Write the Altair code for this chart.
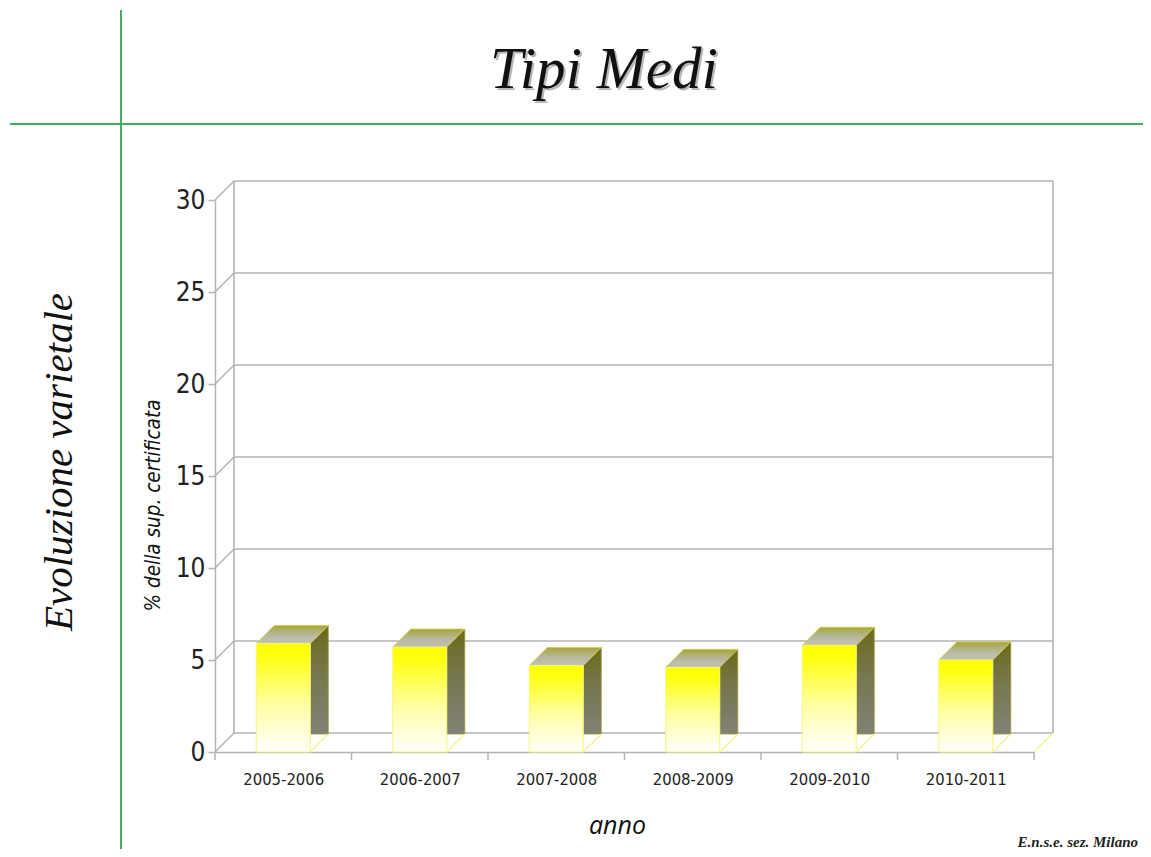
import altair as alt
import pandas as pd

# ---------------- data ----------------
years = ["2005-2006", "2006-2007", "2007-2008", "2008-2009", "2009-2010", "2010-2011"]
values = [5.9, 5.7, 4.7, 4.6, 5.8, 5.0]
y_ticks = [0, 5, 10, 15, 20, 25, 30]

# ---------------- geometry / style constants ----------------
W, H = 819, 552
YMAX = 30
N = len(years)
PX_X = W / N
PX_Y = H / YMAX
WALL = 19        # px depth of the 3D box
BAR_D = 18       # px depth of a bar
BAR_HALF = 27    # px half-width of a bar front

wdx, wdy = WALL / PX_X, WALL / PX_Y
bdx, bdy = BAR_D / PX_X, BAR_D / PX_Y
hw = BAR_HALF / PX_X

GRID = "#b4b4b4"
PALE = "#f4f48a"
NARROW = "DejaVu Sans Condensed, DejaVu Sans, sans-serif"
SERIF = "Liberation Serif, DejaVu Serif, serif"

X_SC = alt.Scale(domain=[0, N], nice=False, zero=False)
Y_SC = alt.Scale(domain=[0, YMAX], nice=False, zero=False)

label_expr = "[" + ",".join("'%s'" % y for y in years) + "][floor(datum.value)]"

X_AX = alt.Axis(values=[i + 0.5 for i in range(N)], labelExpr=label_expr, ticks=False, tickSize=0,
                grid=False, domainColor=GRID, domainWidth=1.5, labelFont=NARROW, labelFontSize=16.5,
                labelColor="#222222", labelPadding=19, labelFlush=False, labelOverlap=False,
                title="anno", titleFont="Open Sans", titleFontStyle="italic", titleFontWeight="normal",
                titleFontSize=25, titleColor="#111111", titleX=402, titleY=73,
                titleAlign="center", titleBaseline="middle")
Y_AX = alt.Axis(values=y_ticks, grid=False, tickSize=7, tickColor=GRID, tickWidth=1.5,
                domainColor=GRID, domainWidth=1.5, labelFont=NARROW, labelFontSize=26,
                labelColor="#222222", labelPadding=3, labelFlush=False, labelOverlap=False,
                title="% della sup. certificata", titleFont="DejaVu Sans Condensed, DejaVu Sans, sans-serif",
                titleFontStyle="italic", titleFontWeight="normal", titleFontSize=20.5,
                titleColor="#111111", titleX=-62, titleY=305, titleAngle=270,
                titleAlign="center", titleBaseline="middle")


def X(f):
    return alt.X(f + ":Q", scale=X_SC, axis=X_AX)


def Y(f):
    return alt.Y(f + ":Q", scale=Y_SC, axis=Y_AX, stack=None)


# ---------------- walls ----------------
wall_rows = []
for t in y_ticks:
    wall_rows.append(dict(x=wdx, x2=N + wdx, y=t + wdy, y2=t + wdy))   # back wall grid line
    wall_rows.append(dict(x=0, x2=wdx, y=t, y2=t + wdy))              # side wall diagonal
wall_rows.append(dict(x=wdx, x2=wdx, y=wdy, y2=YMAX + wdy))
wall_rows.append(dict(x=N + wdx, x2=N + wdx, y=wdy, y2=YMAX + wdy))
walls = pd.DataFrame(wall_rows)

wall_layer = alt.Chart(walls).mark_rule(color=GRID, strokeWidth=1.6).encode(
    x=X("x"), x2=alt.X2("x2"), y=Y("y"), y2=alt.Y2("y2"))

floor_edge = alt.Chart(pd.DataFrame([dict(x=N, x2=N + wdx, y=0, y2=wdy)])).mark_rule(
    color=PALE, strokeWidth=1.2).encode(x=X("x"), x2=alt.X2("x2"), y=Y("y"), y2=alt.Y2("y2"))

xticks = pd.DataFrame({"k": list(range(N + 1))})
xtick_layer = alt.Chart(xticks).mark_rule(color=GRID, strokeWidth=1.5).encode(
    x=X("k"), y=alt.value(H), y2=alt.value(H + 8))

# ---------------- bars ----------------
front_rows, side_rows, top_rows, diag_rows = [], [], [], []
for i, (yr, v) in enumerate(zip(years, values)):
    c = i + 0.5
    x0, x1 = c - hw, c + hw
    front_rows.append(dict(bar=yr, x0=x0, x1=x1, v=v))
    side_rows += [dict(bar=yr, x=x1, y=bdy, y2=v),
                  dict(bar=yr, x=x1 + bdx, y=bdy, y2=v + bdy)]
    top_rows += [dict(bar=yr, x=x0, y=v, y2=v),
                 dict(bar=yr, x=x0 + bdx, y=v, y2=v + bdy),
                 dict(bar=yr, x=x1, y=v, y2=v + bdy),
                 dict(bar=yr, x=x1 + bdx, y=v + bdy, y2=v + bdy)]
    diag_rows.append(dict(bar=yr, x=x1, x2=x1 + bdx, y=0, y2=bdy))

front = pd.DataFrame(front_rows)
side = pd.DataFrame(side_rows)
top = pd.DataFrame(top_rows)
diag = pd.DataFrame(diag_rows)

front_grad = alt.LinearGradient(gradient="linear", x1=0, y1=0, x2=0, y2=1, stops=[
    alt.GradientStop(color="#ffff00", offset=0),
    alt.GradientStop(color="#ffff10", offset=0.12),
    alt.GradientStop(color="#ffffa0", offset=0.55),
    alt.GradientStop(color="#ffffff", offset=1)])
side_grad = alt.LinearGradient(gradient="linear", x1=0, y1=0, x2=0, y2=1, stops=[
    alt.GradientStop(color="#6a6a1c", offset=0),
    alt.GradientStop(color="#77774e", offset=0.45),
    alt.GradientStop(color="#818177", offset=1)])
top_grad = alt.LinearGradient(gradient="linear", x1=0, y1=0, x2=0, y2=1, stops=[
    alt.GradientStop(color="#a6a63a", offset=0),
    alt.GradientStop(color="#b8b8a0", offset=0.55),
    alt.GradientStop(color="#c2c2b6", offset=1)])

side_layer = alt.Chart(side).mark_area(fill=side_grad, stroke="#9a9a30", strokeWidth=0.8,
                                       interpolate="linear", orient="vertical").encode(
    x=X("x"), y=Y("y"), y2=alt.Y2("y2"), detail="bar:N")

top_layer = alt.Chart(top).mark_area(fill=top_grad, stroke="#cfcf40", strokeWidth=0.8,
                                     interpolate="linear", orient="vertical").encode(
    x=X("x"), y=Y("y"), y2=alt.Y2("y2"), detail="bar:N")

front_layer = alt.Chart(front).mark_rect(fill=front_grad, stroke="#f6f67a", strokeWidth=1).encode(
    x=X("x0"), x2=alt.X2("x1"), y=Y("v"), y2=alt.Y2(datum=0))

diag_layer = alt.Chart(diag).mark_rule(color=PALE, strokeWidth=1.2).encode(
    x=X("x"), x2=alt.X2("x2"), y=Y("y"), y2=alt.Y2("y2"))

# ---------------- decorations & texts ----------------
one = pd.DataFrame({"t": ["Tipi Medi"]})
green_v = alt.Chart(one).mark_rule(color="#45ad5f", strokeWidth=2).encode(
    x=alt.value(-94), y=alt.value(-190), y2=alt.value(650))
green_h = alt.Chart(one).mark_rule(color="#45ad5f", strokeWidth=2).encode(
    x=alt.value(-205), x2=alt.value(930), y=alt.value(-76))

title_shadow = alt.Chart(one).mark_text(font=SERIF, fontStyle="italic", fontSize=59, color="#9a9a9a",
                                        align="center", baseline="alphabetic", opacity=0.7).encode(
    x=alt.value(391), y=alt.value(-110), text="t:N")
title = alt.Chart(one).mark_text(font=SERIF, fontStyle="italic", fontSize=59, color="#111111",
                                 align="center", baseline="alphabetic").encode(
    x=alt.value(389), y=alt.value(-112), text="t:N")

side_title = alt.Chart(pd.DataFrame({"t": ["Evoluzione varietale"]})).mark_text(
    font=SERIF, fontStyle="italic", fontSize=41, color="#111111", angle=270,
    align="center", baseline="middle").encode(x=alt.value(-155), y=alt.value(262), text="t:N")

credit = alt.Chart(pd.DataFrame({"t": ["E.n.s.e. sez. Milano"]})).mark_text(
    font=SERIF, fontStyle="italic", fontWeight="bold", fontSize=15, color="#222222",
    align="right", baseline="alphabetic").encode(x=alt.value(923), y=alt.value(647), text="t:N")

chart = alt.layer(
    wall_layer, floor_edge, xtick_layer, side_layer, top_layer, front_layer, diag_layer,
    green_v, green_h, title_shadow, title, side_title, credit
).properties(
    width=W, height=H, autosize="none",
    padding={"left": 207, "top": 192, "right": 109, "bottom": 97},
    background="white"
).configure_view(stroke=None)

chart.save("out.html", embed_options={"renderer": "svg", "actions": False})
